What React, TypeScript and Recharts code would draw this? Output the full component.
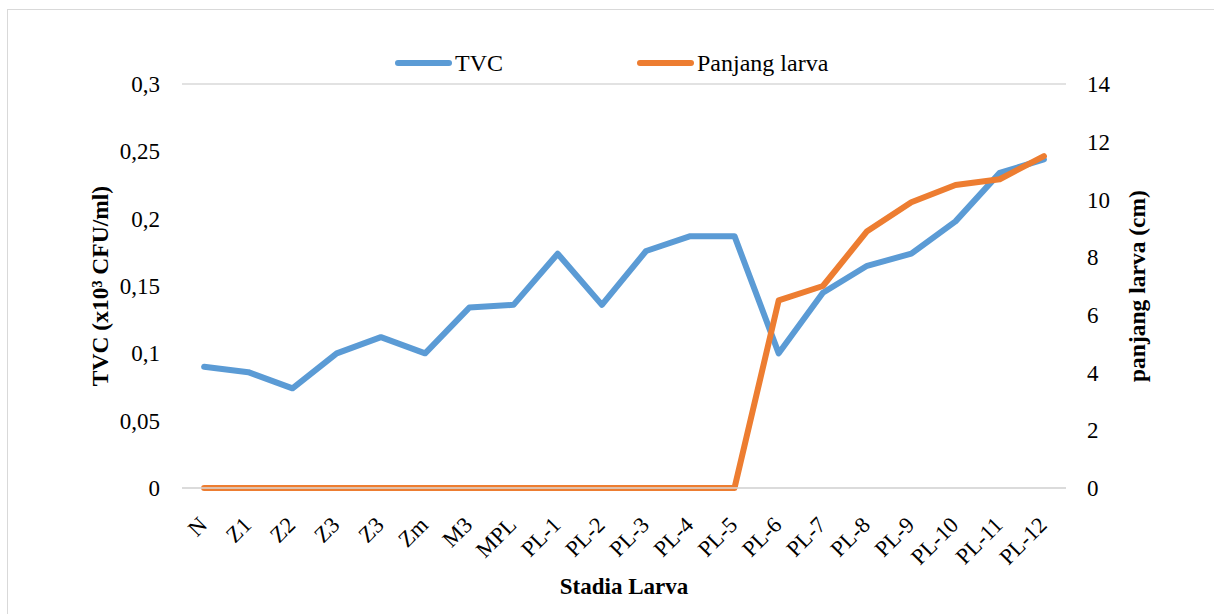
import React from 'react';
import { LineChart, Line, XAxis, YAxis, CartesianGrid, Legend } from 'recharts';

const categoryLabels = ['N', 'Z1', 'Z2', 'Z3', 'Z3', 'Zm', 'M3', 'MPL', 'PL-1', 'PL-2', 'PL-3', 'PL-4', 'PL-5', 'PL-6', 'PL-7', 'PL-8', 'PL-9', 'PL-10', 'PL-11', 'PL-12'];
const tvc = [0.09, 0.086, 0.074, 0.1, 0.112, 0.1, 0.134, 0.136, 0.174, 0.136, 0.176, 0.187, 0.187, 0.1, 0.145, 0.165, 0.174, 0.198, 0.234, 0.244];
const panjang = [0, 0, 0, 0, 0, 0, 0, 0, 0, 0, 0, 0, 0, 6.5, 7.0, 8.9, 9.9, 10.5, 10.7, 11.5];
const leftTicks = [0, 0.05, 0.1, 0.15, 0.2, 0.25, 0.3];
const rightTicks = [0, 2, 4, 6, 8, 10, 12, 14];
const seriesNames = ['TVC', 'Panjang larva'];
const seriesColors = ['#5B9BD5', '#ED7D31'];

const data = categoryLabels.map((c, i) => ({ stage: c, idx: i, tvc: tvc[i], panjang: panjang[i] }));

const FONT = "'Liberation Serif', 'Times New Roman', serif";

const XTick = (props: any) => {
  const { x, y, payload } = props;
  return (
    <g transform={`translate(${x - 7},${y + 19})`}>
      <text x={0} y={0} dy="0.71em" textAnchor="end" transform="rotate(-45)" fill="#000" fontSize={22.5} fontFamily={FONT}>
        {categoryLabels[payload.index] ?? payload.value}
      </text>
    </g>
  );
};

const LegendContent = () => {
  const lefts = [395, 637];
  return (
    <div style={{ position: 'relative', width: 1214, height: 36, fontFamily: FONT }}>
      {seriesNames.map((n, i) => (
        <div key={n} style={{ position: 'absolute', left: lefts[i], top: 0, height: 36, display: 'flex', alignItems: 'center', fontFamily: FONT }}>
          <div style={{ width: 57, height: 6, borderRadius: 3, background: seriesColors[i], marginRight: 3 }} />
          <span style={{ fontFamily: FONT, fontSize: 24, color: '#000' }}>{n}</span>
        </div>
      ))}
    </div>
  );
};

const leftFmt = (v: number) => String(v).replace('.', ',');

export default function App() {
  return (
    <div style={{ position: 'absolute', left: 0, top: 0, width: 1214, height: 614, background: '#fff', overflow: 'hidden', fontFamily: FONT }}>
      <div style={{ position: 'absolute', left: 7, top: 9, width: 1220, height: 620, border: '1.5px solid #D9D9D9', boxSizing: 'border-box' }} />
      <div style={{ position: 'absolute', left: 0, top: 0 }}>
        <LineChart width={1214} height={614} data={data} margin={{ top: 84, right: 0, bottom: 0, left: 0 }}>
          <CartesianGrid vertical={false} stroke="#D9D9D9" strokeWidth={1.5} />
          <XAxis
            dataKey="idx"
            type="category"
            scale="band"
            height={126}
            axisLine={{ stroke: '#D9D9D9', strokeWidth: 1.5 }}
            tickLine={false}
            interval={0}
            tick={<XTick />}
            label={(p: any) => {
              const vb = p.viewBox;
              return (
                <text x={vb.x + vb.width / 2} y={vb.y + 106} textAnchor="middle" fontFamily={FONT} fontSize={23} fontWeight="bold" fill="#000">
                  Stadia Larva
                </text>
              );
            }}
          />
          <YAxis
            yAxisId="left"
            width={182}
            domain={[0, 0.3]}
            ticks={leftTicks}
            tickFormatter={leftFmt}
            axisLine={false}
            tickLine={false}
            tickSize={0}
            tickMargin={22}
            tick={{ fill: '#000', fontSize: 23, fontFamily: FONT }}
            label={(p: any) => {
              const vb = p.viewBox;
              const cx = 100;
              const cy = vb.y + vb.height / 2;
              return (
                <text x={cx} y={cy} transform={`rotate(-90, ${cx}, ${cy})`} textAnchor="middle" dominantBaseline="central" fontFamily={FONT} fontSize={23.5} fontWeight="bold" fill="#000">
                  TVC (x10³ CFU/ml)
                </text>
              );
            }}
          />
          <YAxis
            yAxisId="right"
            orientation="right"
            width={148}
            domain={[0, 14]}
            ticks={rightTicks}
            axisLine={false}
            tickLine={false}
            tickSize={0}
            tickMargin={21}
            tick={{ fill: '#000', fontSize: 23, fontFamily: FONT, textAnchor: 'start' }}
            label={(p: any) => {
              const vb = p.viewBox;
              const cx = 1137;
              const cy = vb.y + vb.height / 2;
              return (
                <text x={cx} y={cy} transform={`rotate(-90, ${cx}, ${cy})`} textAnchor="middle" dominantBaseline="central" fontFamily={FONT} fontSize={23.5} fontWeight="bold" fill="#000">
                  panjang larva (cm)
                </text>
              );
            }}
          />
          <Legend verticalAlign="middle" align="center" layout="horizontal" wrapperStyle={{ top: 45, left: 0, width: 1214 }} content={<LegendContent />} />
          <Line yAxisId="left" dataKey="tvc" name={seriesNames[0]} stroke={seriesColors[0]} strokeWidth={6} dot={false} isAnimationActive={false} strokeLinejoin="round" strokeLinecap="round" />
          <Line yAxisId="right" dataKey="panjang" name={seriesNames[1]} stroke={seriesColors[1]} strokeWidth={6} dot={false} isAnimationActive={false} strokeLinejoin="round" strokeLinecap="round" />
        </LineChart>
      </div>
    </div>
  );
}
